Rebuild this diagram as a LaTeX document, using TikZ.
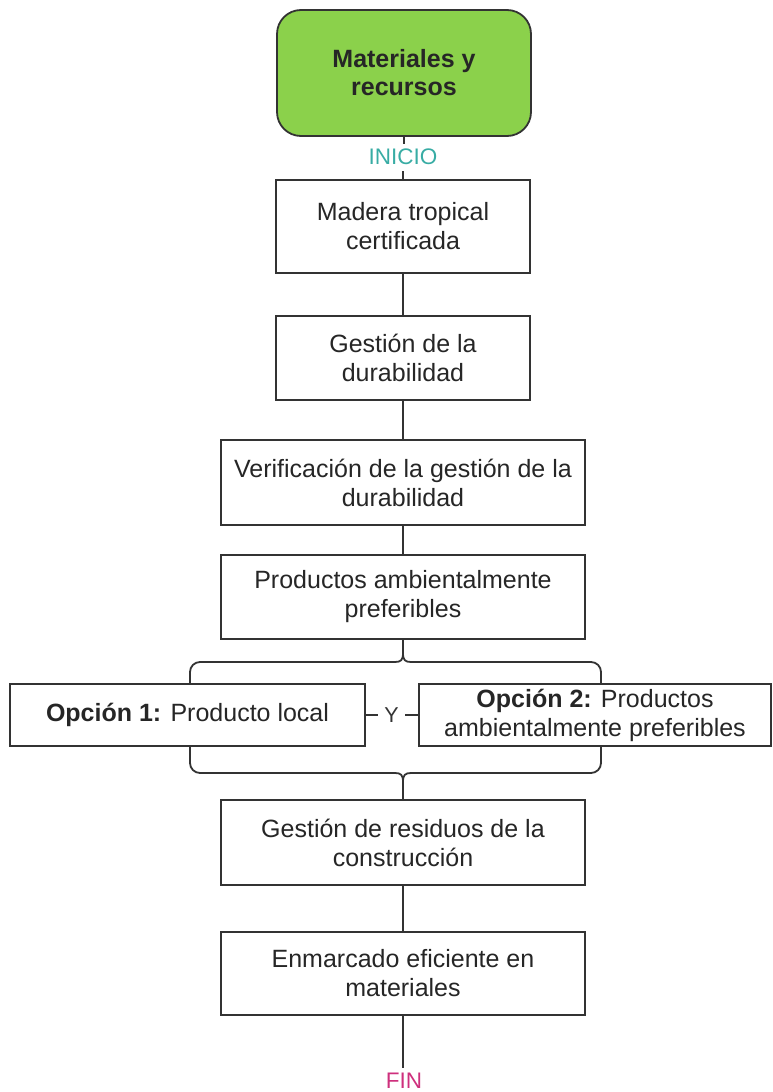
\documentclass[tikz,border=0pt]{standalone}
\usepackage{fontspec}
\setmainfont{Liberation Sans}
\begin{document}
\begin{tikzpicture}[x=1pt,y=-1pt,
  line/.style={draw=black!80, line width=1.8pt},
  stepbox/.style={line, rectangle, inner sep=0pt, align=center,
    font=\fontsize{25}{29}\selectfont, text=black!85},
  start/.style={line, rounded corners=24pt, fill=startgreen, inner sep=0pt,
    align=center, font=\fontsize{25}{28}\selectfont\bfseries, text=black!85},
  tag/.style={inner sep=0pt, font=\fontsize{22.5}{24}\selectfont}
]
\definecolor{startgreen}{RGB}{139,209,75}
\definecolor{inicio}{RGB}{56,172,164}
\definecolor{fin}{RGB}{206,48,125}
\useasboundingbox (0,0) rectangle (772,1092);

% main column of steps
\node[start, minimum width=254pt, minimum height=126pt] (top) at (404,73) {Materiales y\\recursos};
\node[tag, text=inicio] (inicio) at (403,157) {INICIO};
\node[stepbox, minimum width=254pt, minimum height=93pt] (b1) at (403,226.5) {Madera tropical\\certificada};
\node[stepbox, minimum width=254pt, minimum height=84pt] (b2) at (403,358) {Gestión de la\\durabilidad};
\node[stepbox, minimum width=364pt, minimum height=85pt] (b3) at (403,482.5) {Verificación de la gestión de la\\durabilidad};
\node[stepbox, minimum width=364pt, minimum height=84pt] (b4) at (403,597) {Productos ambientalmente\\preferibles};

% the two options
\node[stepbox, minimum width=355pt, minimum height=62pt] (o1) at (187.5,715) {\textbf{Opción 1:} Producto local};
\node[stepbox, minimum width=352pt, minimum height=62pt] (o2) at (595,715) {\textbf{Opción 2:} Productos\\ambientalmente preferibles};
\node[tag, text=black!80, font=\fontsize{21.5}{22}\selectfont] (y) at (391.5,715) {Y};

\node[stepbox, minimum width=364pt, minimum height=85pt] (b5) at (403,842.5) {Gestión de residuos de la\\construcción};
\node[stepbox, minimum width=364pt, minimum height=83pt] (b6) at (403,973.5) {Enmarcado eficiente en\\materiales};
\node[tag, text=fin] (fin) at (404,1081) {FIN};

% connectors
\draw[line, line width=2.4pt] (top.south) -- ++(0,7);
\draw[line, line width=2.4pt] (b1.north) -- ++(0,-8);
\draw[line] (b1) -- (b2);
\draw[line] (b2) -- (b3);
\draw[line] (b3) -- (b4);
\draw[line] (b5) -- (b6);
\draw[line] (b6.south) -- ++(0,52);

% "Y" joining the options
\draw[line] (o1.east) -- ++(12,0);
\draw[line] (o2.west) -- ++(-13,0);

% brace opening onto the options
\coordinate (tl) at (190,683);
\coordinate (tr) at (601,683);
\draw[line, rounded corners=10pt] (tl) -- (190,662) -- (395,662);
\draw[line, rounded corners=10pt] (tr) -- (601,662) -- (411,662);
\draw[line] (395,662) .. controls (401,662) and (403,660) .. (403,653) -- (b4.south);
\draw[line] (411,662) .. controls (405,662) and (403,660) .. (403,653);

% brace closing the options
\coordinate (bl) at (190,747);
\coordinate (br) at (601,747);
\draw[line, rounded corners=10pt] (bl) -- (190,773) -- (395,773);
\draw[line, rounded corners=10pt] (br) -- (601,773) -- (411,773);
\draw[line] (395,773) .. controls (401,773) and (403,775) .. (403,782) -- (b5.north);
\draw[line] (411,773) .. controls (405,773) and (403,775) .. (403,782);
\end{tikzpicture}
\end{document}
